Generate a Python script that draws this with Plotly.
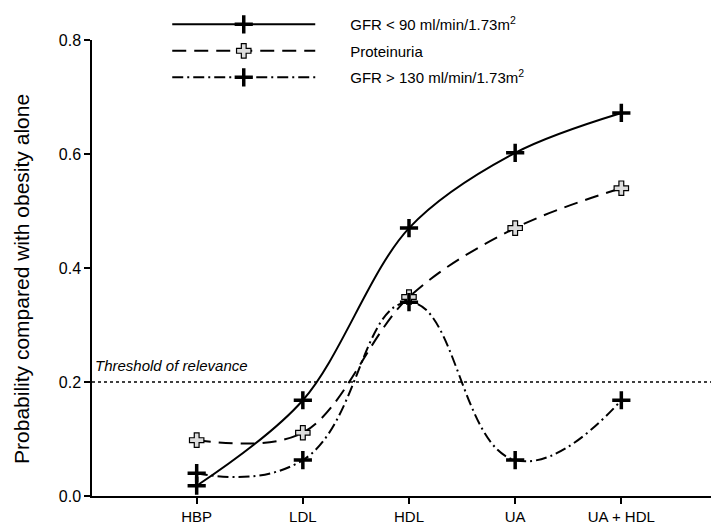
import plotly.graph_objects as go

categories = ["HBP", "LDL", "HDL", "UA", "UA + HDL"]
gfr_low = [0.018, 0.168, 0.47, 0.602, 0.672]
proteinuria = [0.098, 0.111, 0.349, 0.47, 0.54]
gfr_high = [0.04, 0.063, 0.34, 0.063, 0.168]
threshold = 0.2
y_ticks = [0.0, 0.2, 0.4, 0.6, 0.8]

FONT = "Liberation Sans, Arial, sans-serif"
PAD = "\u2003\u2003"
xs = list(range(len(categories)))

fig = go.Figure()
fig.add_trace(go.Scatter(
    x=xs, y=gfr_low, mode="lines+markers", name=PAD + "GFR < 90 ml/min/1.73m<sup>2</sup>",
    legendgroup="a",
    line=dict(color="black", width=2, shape="spline", smoothing=0.95),
    marker=dict(symbol="cross-thin", size=13, line=dict(color="black", width=3.5)),
    cliponaxis=False))
fig.add_trace(go.Scatter(
    x=xs, y=proteinuria, mode="lines+markers", name=PAD + "Proteinuria",
    legendgroup="b",
    line=dict(color="black", width=2, shape="spline", smoothing=1.0, dash="14px,8px"),
    marker=dict(symbol="cross", size=12, color="#dddddd", line=dict(color="black", width=1.2)),
    cliponaxis=False))
fig.add_trace(go.Scatter(
    x=xs, y=gfr_high, mode="lines+markers", name=PAD + "GFR > 130 ml/min/1.73m<sup>2</sup>",
    legendgroup="c",
    line=dict(color="black", width=2, shape="spline", smoothing=1.3, dash="11px,4px,2px,4px"),
    marker=dict(symbol="cross-thin", size=13, line=dict(color="black", width=3.5)),
    cliponaxis=False))

fig.add_hline(y=threshold, line=dict(color="black", width=1.5, dash="dot"))
fig.add_annotation(x=0, xref="paper", y=threshold, yref="y", yshift=17,
                   text="<i>Threshold of relevance</i>", showarrow=False,
                   xanchor="left", xshift=1, font=dict(family=FONT, size=15, color="black"))
fig.add_annotation(x=0, xref="paper", y=0.476, yref="paper", xshift=-70,
                   text="Probability compared with obesity alone", textangle=-90,
                   showarrow=False, xanchor="center", yanchor="middle",
                   font=dict(family=FONT, size=21, color="black"))

fig.update_layout(
    width=711, height=524,
    margin=dict(l=84, r=0, t=32, b=36, autoexpand=False),
    paper_bgcolor="white", plot_bgcolor="white",
    font=dict(family=FONT, size=15, color="black"),
    showlegend=True,
    legend=dict(x=0.12, y=1.07, xanchor="left", yanchor="top", itemwidth=143,
                bgcolor="rgba(0,0,0,0)", font=dict(family=FONT, size=15),
                traceorder="grouped", tracegroupgap=4, itemsizing="trace"),
    xaxis=dict(range=[-0.986, 4.92], tickmode="array", tickvals=xs, ticktext=categories,
               showline=True, linecolor="black", linewidth=1.5, ticks="outside",
               ticklen=6, tickwidth=1.5, tickcolor="black", showgrid=False, zeroline=False,
               tickfont=dict(size=15)),
    yaxis=dict(range=[0, 0.8], tickvals=y_ticks, ticktext=["0.0", "0.2", "0.4", "0.6", "0.8"],
               showline=True, linecolor="black", linewidth=1.5, ticks="outside",
               ticklen=6, tickwidth=1.5, tickcolor="black", showgrid=False, zeroline=False,
               tickfont=dict(size=16)),
)

fig.write_html("out.html")
